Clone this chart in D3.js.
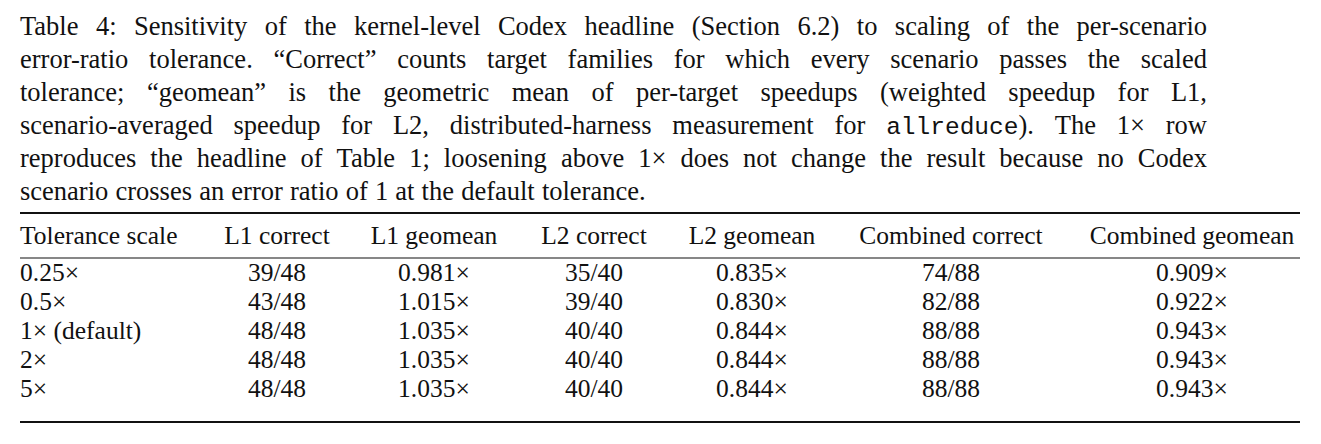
<!DOCTYPE html>
<html>
<head>
<meta charset="utf-8">
<script src="https://cdn.jsdelivr.net/npm/d3@7"></script>
<style>
  body { margin: 0; background: #fff; }
  svg text { fill: #111; }
</style>
</head>
<body>
<div id="chart"></div>
<script>
// caption lines; [m] marks monospace words
const captionLines = [
  "Table 4: Sensitivity of the kernel-level Codex headline (Section 6.2) to scaling of the per-scenario",
  "error-ratio tolerance. \u201cCorrect\u201d counts target families for which every scenario passes the scaled",
  "tolerance; \u201cgeomean\u201d is the geometric mean of per-target speedups (weighted speedup for L1,",
  "scenario-averaged speedup for L2, distributed-harness measurement for [m]allreduce[/m]). The 1\u00d7 row",
  "reproduces the headline of Table 1; loosening above 1\u00d7 does not change the result because no Codex",
  "scenario crosses an error ratio of 1 at the default tolerance."
];
const columns = ["Tolerance scale", "L1 correct", "L1 geomean", "L2 correct", "L2 geomean", "Combined correct", "Combined geomean"];
const scales = ["0.25\u00d7", "0.5\u00d7", "1\u00d7 (default)", "2\u00d7", "5\u00d7"];
const l1Correct = ["39/48", "43/48", "48/48", "48/48", "48/48"];
const l1Geomean = ["0.981\u00d7", "1.015\u00d7", "1.035\u00d7", "1.035\u00d7", "1.035\u00d7"];
const l2Correct = ["35/40", "39/40", "40/40", "40/40", "40/40"];
const l2Geomean = ["0.835\u00d7", "0.830\u00d7", "0.844\u00d7", "0.844\u00d7", "0.844\u00d7"];
const combCorrect = ["74/88", "82/88", "88/88", "88/88", "88/88"];
const combGeomean = ["0.909\u00d7", "0.922\u00d7", "0.943\u00d7", "0.943\u00d7", "0.943\u00d7"];

const width = 1321, height = 444;
const serif = "'Liberation Serif', 'Times New Roman', Times, 'DejaVu Serif', serif";
const fs = 26.5, tfs = 25.5;
const left = 20, right = 1300, capRight = 1207;

const svg = d3.select("#chart").append("svg")
  .attr("width", width).attr("height", height)
  .attr("font-family", serif);

// caption, justified word by word
const capY = d3.scaleLinear().domain([0, 5]).range([35, 200]);
captionLines.forEach((line, i) => {
  const words = line.split(" ").map(w => {
    const mono = w.includes("[m]");
    return { parts: mono ? w.split(/\[m\]|\[\/m\]/) : [w], mono };
  });
  const g = svg.append("g");
  const nodes = words.map(w => {
    const t = g.append("text").attr("y", capY(i)).attr("font-size", fs).attr("font-family", serif);
    if (w.mono) {
      t.append("tspan").text(w.parts[0]);
      t.append("tspan").text(w.parts[1]).attr("font-family", "'Liberation Mono', monospace").attr("font-size", fs - 2);
      t.append("tspan").text(w.parts[2]);
    } else t.text(w.parts[0]);
    return t;
  });
  const widths = nodes.map(n => n.node().getComputedTextLength());
  const total = d3.sum(widths);
  const last = i === captionLines.length - 1;
  const gap = last ? fs * 0.27 : (capRight - left - total) / (nodes.length - 1);
  let x = left;
  nodes.forEach((n, k) => { n.attr("x", x); x += widths[k] + gap; });
});

// table
const colX = [left, 277, 434, 594, 752, 951, 1192];
const rowY = d3.scaleLinear().domain([0, scales.length - 1]).range([281, 397]);
const cols = [scales, l1Correct, l1Geomean, l2Correct, l2Geomean, combCorrect, combGeomean];

svg.append("line").attr("x1", left).attr("x2", right).attr("y1", 213).attr("y2", 213)
  .attr("stroke", "#111").attr("stroke-width", 2.2);
svg.append("line").attr("x1", left).attr("x2", right).attr("y1", 258).attr("y2", 258)
  .attr("stroke", "#111").attr("stroke-width", 1.2);
svg.append("line").attr("x1", left).attr("x2", right).attr("y1", 422).attr("y2", 422)
  .attr("stroke", "#111").attr("stroke-width", 2.2);

svg.selectAll(".hdr").data(columns).enter().append("text")
  .attr("class", "hdr")
  .attr("x", (d, i) => colX[i]).attr("y", 244)
  .attr("font-size", tfs).attr("font-family", serif)
  .attr("text-anchor", (d, i) => i === 0 ? "start" : "middle")
  .text(d => d);

cols.forEach((vals, c) => {
  svg.selectAll(".c" + c).data(vals).enter().append("text")
    .attr("class", "c" + c)
    .attr("x", colX[c]).attr("y", (d, r) => rowY(r))
    .attr("font-size", tfs).attr("font-family", serif)
    .attr("text-anchor", c === 0 ? "start" : "middle")
    .text(d => d);
});
</script>
</body>
</html>
